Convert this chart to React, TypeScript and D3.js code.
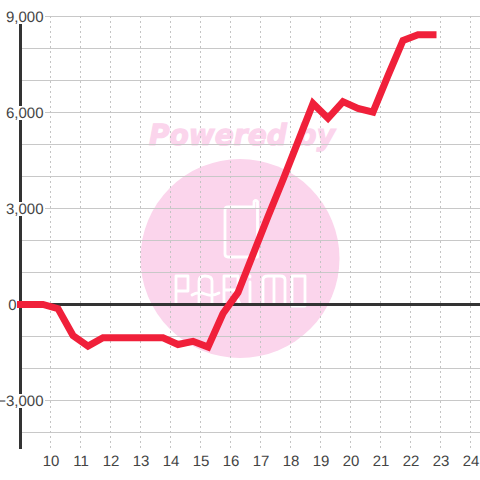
import React from "react";
import * as d3 from "d3";

const hours = [9, 9.25, 9.75, 10.25, 10.75, 11.25, 11.75, 12.25, 12.75, 13.25, 13.75, 14.25, 14.75, 15.25, 15.75, 16.25, 16.75, 17.25, 17.75, 18.25, 18.75, 19.25, 19.75, 20.25, 20.75, 21.25, 21.75, 22.25, 22.75];
const values = [0, 0, 0, -130, -970, -1300, -1040, -1040, -1040, -1040, -1040, -1250, -1150, -1330, -280, 375, 1560, 2750, 3900, 5090, 6280, 5820, 6340, 6130, 6010, 7150, 8250, 8430, 8430];
const xTicks = [10, 11, 12, 13, 14, 15, 16, 17, 18, 19, 20, 21, 22, 23, 24];
const yGrid = [-4000, -3000, -2000, -1000, 1000, 2000, 3000, 4000, 5000, 6000, 7000, 8000, 9000];
const yLabels = [-3000, 3000, 6000, 9000];
const zeroLabel = [0];

const x = d3.scaleLinear().domain([9, 24]).range([20.5, 470.5]);
const y = d3.scaleLinear().domain([0, 9000]).range([304.5, 16.5]);
const fmt = d3.format(",");
const line = d3.line<number>().x((_, i) => x(hours[i])).y((d) => y(d));
const FONT = "'Liberation Sans', Arial, sans-serif";
const PINK = "#fbd5ec";
const TEXT = "#444";

export default function App() {
  return (
    <svg width={480} height={480} textRendering="geometricPrecision" style={{ position: "absolute", left: 0, top: 0, background: "#fff" }}>
      <circle cx={240} cy={258.5} r={99.5} fill={PINK} />
      <text x={149} y={145} fontFamily="'DejaVu Sans', sans-serif" fontSize={29} fontWeight="bold" fontStyle="italic" fill={PINK} stroke={PINK} strokeWidth={1.2} textLength={186} lengthAdjust="spacingAndGlyphs">Powered by</text>
      <g fill="none" stroke="#fff" strokeWidth={2.8} strokeLinejoin="round" strokeLinecap="round">
        <path d="M228 207 H254 V201.5 Q256 199.5 257.5 201.5 V257 H228 Q225 257 225 254 V210 Q225 207 228 207 Z" />
        <path d="M176 304 V276 H188 V291 H176" />
        <path d="M199 304 V281 Q199 276 205 276 Q212 276 212 281 V304 M192 295 Q198 291 205 294 Q212 297 219 293" />
        <path d="M224 304 V276 H238 V290 H224 M233 290 L240 304" />
        <path d="M250 282 V304 M250 276 V277" />
        <path d="M263 304 V280 Q263 276 268 276 H280 Q285 276 285 280 V304 M274 276 V304" />
        <path d="M292 276 H305 V306 H292 Z" />
      </g>
      {yGrid.map((v) => (
        <line key={v} x1={20} x2={480} y1={y(v)} y2={y(v)} stroke="#c8c8c8" strokeWidth={1} />
      ))}
      {xTicks.map((t) => (
        <line key={t} x1={x(t)} x2={x(t)} y1={16} y2={449} stroke="#c4c4c4" strokeWidth={1} strokeDasharray="2 3" />
      ))}
      <line x1={20} x2={480} y1={y(0)} y2={y(0)} stroke="#333" strokeWidth={3} />
      <line x1={20.5} x2={20.5} y1={16} y2={449} stroke="#333" strokeWidth={3} />
      {yLabels.map((v) => (
        <g key={v}>
          <rect x={0} y={y(v) - 6.5} width={45} height={14} fill="#fff" />
          <text x={43.5} y={y(v) + 5.5} textAnchor="end" fontFamily={FONT} fontSize={15} fill={TEXT}>{fmt(v)}</text>
        </g>
      ))}
      {zeroLabel.map((v) => (
        <text key={v} x={16.5} y={y(v) + 5.5} textAnchor="end" fontFamily={FONT} fontSize={15} fill={TEXT}>{fmt(v)}</text>
      ))}
      {xTicks.map((t) => (
        <text key={t} x={x(t) + 0.5} y={466} textAnchor="middle" fontFamily={FONT} fontSize={15} fill={TEXT}>{t}</text>
      ))}
      <path d={line(values) ?? ""} fill="none" stroke="#f0203a" strokeWidth={7} strokeLinecap="square" strokeLinejoin="miter" />
    </svg>
  );
}
